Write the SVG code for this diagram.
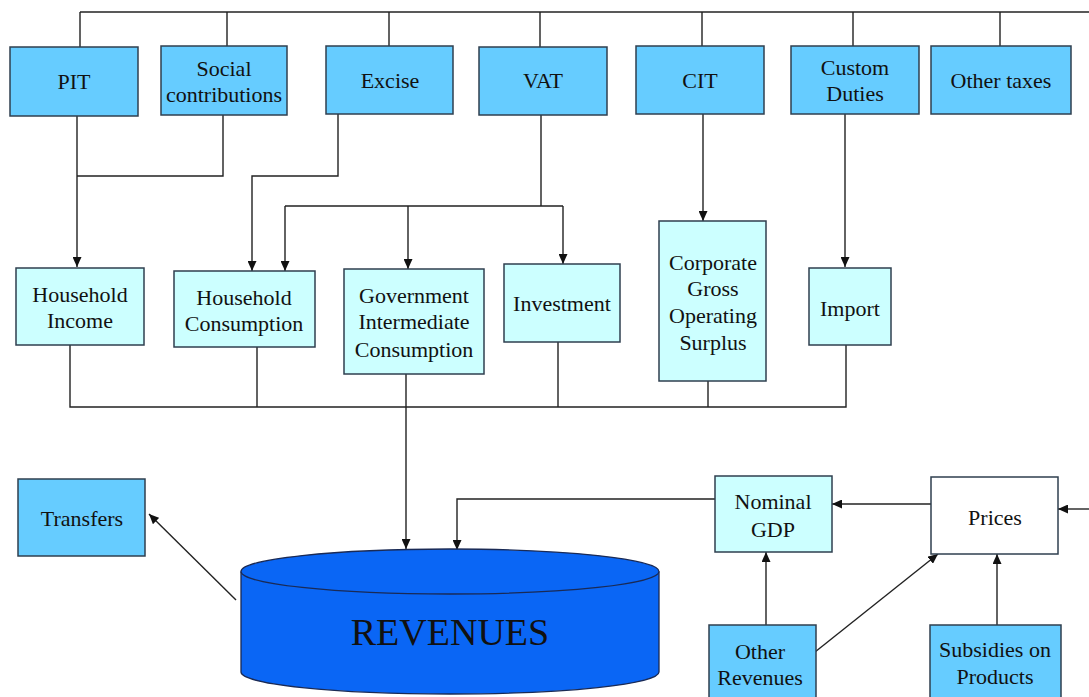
<svg xmlns="http://www.w3.org/2000/svg" width="1089" height="697" viewBox="0 0 1089 697">
<style>
.tax{fill:#66CCFF;stroke:#2f3f4f;stroke-width:1.5}
.mid{fill:#CCFFFF;stroke:#2f3f4f;stroke-width:1.5}
.wht{fill:#FFFFFF;stroke:#2f3f4f;stroke-width:1.5}
text{font-family:"Liberation Serif","Times New Roman",serif;font-size:22px;fill:#111;text-anchor:middle}
.ln{fill:none;stroke:#222;stroke-width:1.4}
.ar{fill:none;stroke:#222;stroke-width:1.4;marker-end:url(#ah)}
</style>
<defs>
<marker id="ah" markerUnits="userSpaceOnUse" markerWidth="10" markerHeight="9" refX="10" refY="4.5" orient="auto">
<path d="M0,0 L10,4.5 L0,9 z" fill="#111"/>
</marker>
</defs>
<rect width="1089" height="697" fill="#fff"/>
<g id="connectors">
<path class="ln" d="M80,12 H1089"/>
<path class="ln" d="M80,12 V47 M227,12 V46 M389,12 V46 M540,12 V47 M702,12 V46 M853,12 V46 M1000,12 V46"/>
<path class="ar" d="M77,116 V267"/>
<path class="ln" d="M223,115 V176 H77"/>
<path class="ar" d="M338,114 V176 H252 V271"/>
<path class="ln" d="M541,115 V206 M285,206 H563"/>
<path class="ar" d="M285,206 V271"/>
<path class="ar" d="M408,206 V269"/>
<path class="ar" d="M563,206 V264"/>
<path class="ar" d="M703,114 V221"/>
<path class="ar" d="M845,114 V267"/>
<path class="ln" d="M70,345 V407 H846 V345 M257,347 V407 M558,342 V407 M708,381 V407"/>
<path class="ar" d="M406,374 V549"/>
<path class="ar" d="M715,499 H457 V550"/>
<path class="ar" d="M236,600 L149,514"/>
<path class="ar" d="M931,504 H832"/>
<path class="ar" d="M1089,509 H1058"/>
<path class="ar" d="M766,625 V552"/>
<path class="ar" d="M815,652 L938,554"/>
<path class="ar" d="M997,625 V554"/>
</g>
<g id="pit"><rect class="tax" x="10" y="47" width="128" height="69"/><text x="74" y="89">PIT</text></g>
<g id="social"><rect class="tax" x="161" y="46" width="126" height="69"/><text x="224" y="76">Social</text><text x="224" y="102">contributions</text></g>
<g id="excise"><rect class="tax" x="326" y="46" width="127" height="68"/><text x="390" y="88">Excise</text></g>
<g id="vat"><rect class="tax" x="479" y="47" width="128" height="68"/><text x="543" y="88">VAT</text></g>
<g id="cit"><rect class="tax" x="636" y="46" width="128" height="68"/><text x="700" y="88">CIT</text></g>
<g id="custom"><rect class="tax" x="791" y="46" width="128" height="68"/><text x="855" y="75">Custom</text><text x="855" y="101">Duties</text></g>
<g id="other-taxes"><rect class="tax" x="931" y="46" width="140" height="68"/><text x="1001" y="88">Other taxes</text></g>
<g id="household-income"><rect class="mid" x="16" y="268" width="128" height="77"/><text x="80" y="302">Household</text><text x="80" y="328">Income</text></g>
<g id="household-consumption"><rect class="mid" x="174" y="271" width="141" height="76"/><text x="244" y="305">Household</text><text x="244" y="331">Consumption</text></g>
<g id="gov-int-consumption"><rect class="mid" x="344" y="269" width="140" height="105"/><text x="414" y="303">Government</text><text x="414" y="329">Intermediate</text><text x="414" y="357">Consumption</text></g>
<g id="investment"><rect class="mid" x="504" y="264" width="116" height="78"/><text x="562" y="311">Investment</text></g>
<g id="cgos"><rect class="mid" x="659" y="221" width="107" height="160"/><text x="713" y="270">Corporate</text><text x="713" y="296">Gross</text><text x="713" y="323">Operating</text><text x="713" y="350">Surplus</text></g>
<g id="import"><rect class="mid" x="809" y="268" width="82" height="77"/><text x="850" y="316">Import</text></g>
<g id="transfers"><rect class="tax" x="18" y="479" width="127" height="77"/><text x="82" y="526">Transfers</text></g>
<g id="revenues">
<path d="M241,571.5 V672 A209,22 0 0 0 659,672 V571.5" fill="#0A66F5" stroke="#1a2a55" stroke-width="1.3"/>
<ellipse cx="450" cy="571.5" rx="209" ry="22.5" fill="#0A66F5" stroke="#1a2a55" stroke-width="1.3"/>
<text x="450" y="645" style="font-size:38px">REVENUES</text>
</g>
<g id="nominal-gdp"><rect class="mid" x="715" y="476" width="117" height="76"/><text x="773" y="509">Nominal</text><text x="773" y="537">GDP</text></g>
<g id="prices"><rect class="wht" x="931" y="477" width="127" height="77"/><text x="995" y="525">Prices</text></g>
<g id="other-revenues"><rect class="tax" x="709" y="625" width="107" height="80"/><text x="760" y="659">Other</text><text x="760" y="685">Revenues</text></g>
<g id="subsidies"><rect class="tax" x="930" y="625" width="131" height="80"/><text x="995" y="657">Subsidies on</text><text x="995" y="684">Products</text></g>
</svg>
